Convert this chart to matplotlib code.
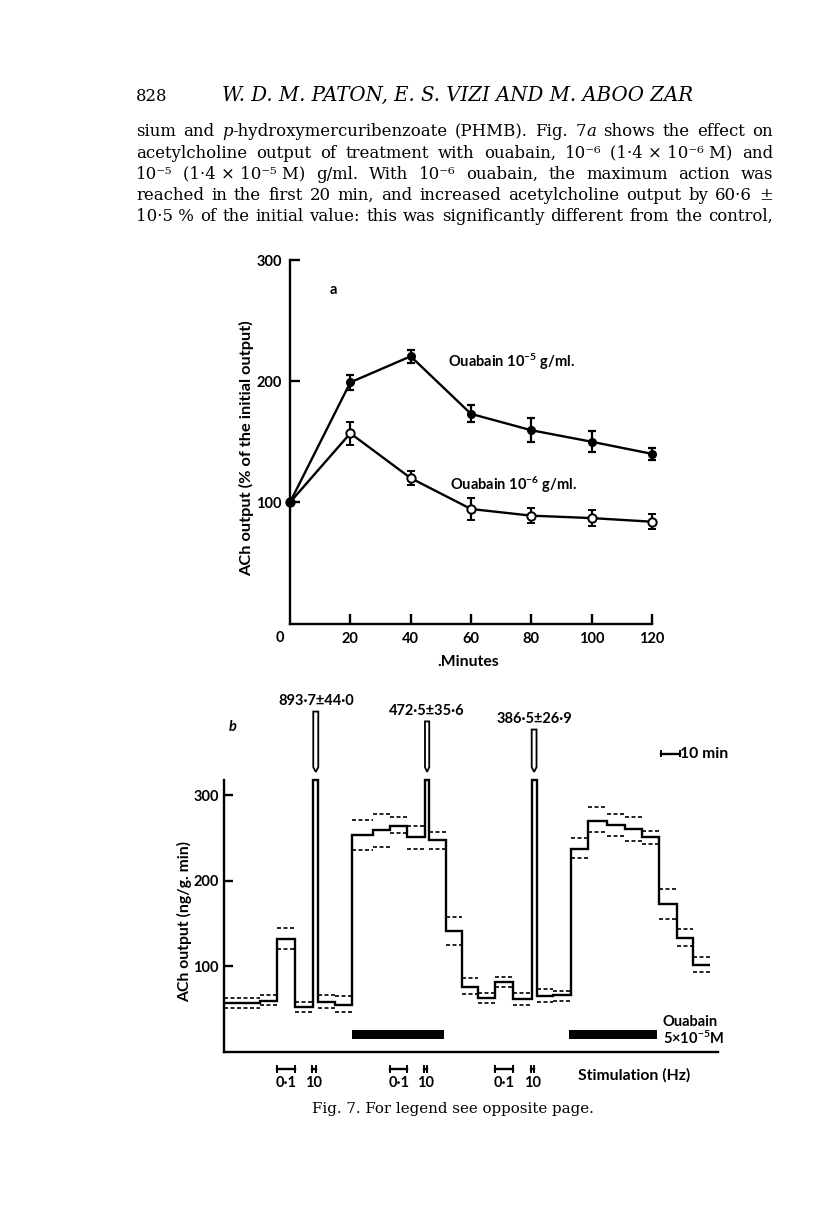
import numpy as np
import matplotlib
matplotlib.use("Agg")
import matplotlib.pyplot as plt
from matplotlib.patches import Polygon

# ---------------- panel a data ----------------
minutes = [0, 20, 40, 60, 80, 100, 120]
ouabain_1e5 = [100, 199, 220.5, 173, 159.5, 150, 140]
ouabain_1e5_err = [0, 6.5, 5.5, 7, 10, 8.5, 5]
ouabain_1e6 = [100, 157, 120, 94.5, 89, 87, 84]
ouabain_1e6_err = [0, 9.7, 6, 9.4, 6, 6.7, 6]
a_xticks = [20, 40, 60, 80, 100, 120]
a_yticks = [100, 200, 300]

# ---------------- panel b data (time in min, output ng/g.min) ----------------
b_edges = [0, 18.5, 27.2, 36.8, 46.1, 48.7, 57.4, 66.0, 76.9, 85.9, 94.8, 104.0,
           106.2, 114.7, 123.0, 131.6, 140.3, 149.7, 159.3, 161.8, 170.2, 179.5,
           188.6, 198.1, 207.6, 216.6, 225.4, 234.4, 243.0, 251.7]
b_mean = [57.1, 60.2, 132.4, 52.4, 893.7, 59, 55.2, 253.2, 259.8, 264.5, 251.3,
          472.5, 247.4, 141, 75.8, 63, 81.7, 61.8, 386.5, 65.7, 66.9, 237.2,
          269.6, 265.7, 260.6, 251.3, 172.9, 133.1, 102]
b_upper = [63, 66.5, 144.8, 58.7, np.nan, 66.5, 65, 270.8, 278.6, 274.7, 264.5,
           np.nan, 256.7, 157.3, 86.4, 68.8, 87.5, 68.8, np.nan, 73.9, 71.9, 250,
           286.4, 278.6, 274.3, 258.7, 190.4, 143.7, 110.9]
b_lower = [52, 54.4, 120.3, 46.2, np.nan, 51.3, 46.6, 235.7, 239.6, 256, 237.6,
           np.nan, 237.6, 124.6, 68, 57.1, 75.8, 54.4, np.nan, 57.9, 60.2, 226.7,
           257.1, 252.6, 247, 243, 155.4, 123.4, 93]
spike_sem = [44.0, 35.6, 26.9]
stim_01hz = [(27.2, 36.8), (85.9, 94.8), (140.3, 149.7)]
stim_10hz = [(46.1, 48.7), (104.0, 106.2), (159.3, 161.8)]
ouabain_periods = [(66.0, 114.0), (178.8, 224.3)]
b_yticks = [100, 200, 300]

# ---------------- body text ----------------
header_num = "828"
header_authors = "W. D. M. PATON, E. S. VIZI AND M. ABOO ZAR"
body_lines = [
    ["sium", "and", [("p", "italic"), ("-hydroxymercuribenzoate", "normal")], "(PHMB).",
     "Fig.", [("7", "normal"), ("a", "italic")], "shows", "the", "effect", "on"],
    ["acetylcholine", "output", "of", "treatment", "with", "ouabain,", "10\u207b\u2076",
     "(1\u00b74 \u00d7 10\u207b\u2076 M)", "and"],
    ["10\u207b\u2075", "(1\u00b74 \u00d7 10\u207b\u2075 M)", "g/ml.", "With", "10\u207b\u2076",
     "ouabain,", "the", "maximum", "action", "was"],
    ["reached", "in", "the", "first", "20", "min,", "and", "increased", "acetylcholine",
     "output", "by", "60\u00b76", "\u00b1"],
    ["10\u00b75 %", "of", "the", "initial", "value:", "this", "was", "significantly",
     "different", "from", "the", "control,"],
]
caption = "Fig. 7. For legend see opposite page."

# ---------------- figure ----------------
W, H = 816, 1229
plt.rcParams['font.family'] = ['Lato', 'DejaVu Sans']
plt.rcParams['font.weight'] = 'bold'
plt.rcParams['mathtext.fontset'] = 'custom'
plt.rcParams['mathtext.rm'] = 'Lato:bold'
plt.rcParams['mathtext.it'] = 'Lato:italic:bold'
plt.rcParams['mathtext.bf'] = 'Lato:bold'

fig = plt.figure(figsize=(W / 100, H / 100), dpi=100)
fig.patch.set_facecolor('white')
renderer = fig.canvas.get_renderer()
SERIF = 'DejaVu Serif'


def fx(x):
    return x / W


def fy(y):
    return 1 - y / H


def ptext(x, y, s, **kw):
    return fig.text(fx(x), fy(y), s, **kw)


def width_of(s, size, style='normal', family=SERIF, weight='normal'):
    t = fig.text(0, 0, s, fontsize=size, family=family, style=style, weight=weight)
    w = t.get_window_extent(renderer).width
    t.remove()
    return w


def norm_word(w):
    return [(w, 'normal')] if isinstance(w, str) else w


def word_width(w, size):
    return sum(width_of(t, size, st) for t, st in norm_word(w))


# body text justified between x=136 and 773
LEFT, RIGHT = 136, 773
base = 10
nat = []
for line in body_lines:
    ws = sum(word_width(w, base) for w in line)
    nat.append(ws + (len(line) - 1) * 0.32 * base * 100 / 72)
size = base * (RIGHT - LEFT) * 0.985 / max(nat)
baselines = [136.5, 157.5, 178.8, 199.8, 220.8]
for line, yb in zip(body_lines, baselines):
    widths = [word_width(w, size) for w in line]
    gap = (RIGHT - LEFT - sum(widths)) / (len(line) - 1)
    x = LEFT
    for w, ww in zip(line, widths):
        xx = x
        for t, st in norm_word(w):
            ptext(xx, yb, t, fontsize=size, family=SERIF, style=st, weight='normal',
                  ha='left', va='baseline')
            xx += width_of(t, size, st)
        x += ww + gap

ptext(LEFT, 100.7, header_num, fontsize=size, family=SERIF, weight='normal',
      ha='left', va='baseline')
hs = 10 * 471 / width_of(header_authors, 10, 'italic')
ptext(221.7, 100.7, header_authors, fontsize=hs, family=SERIF, style='italic',
      weight='normal', ha='left', va='baseline')
cs = 10 * 282 / width_of(caption, 10)
ptext(452.5, 1113, caption, fontsize=cs, family=SERIF, weight='normal',
      ha='center', va='baseline')

LW = 1.7
TICKFS = 10.5
LABFS = 11.3

# ---------------- panel a ----------------
axa = fig.add_axes([fx(290), fy(623.5), 362 / W, 363.5 / H])
axa.set_xlim(0, 120)
axa.set_ylim(0, 300)
for s in ['top', 'right']:
    axa.spines[s].set_visible(False)
for s in ['left', 'bottom']:
    axa.spines[s].set_linewidth(LW)
axa.set_xticks(a_xticks)
axa.set_yticks(a_yticks)
axa.tick_params(direction='in', length=7, width=LW, labelsize=TICKFS)
axa.tick_params(axis='x', pad=6)
axa.tick_params(axis='y', pad=6)
axa.set_facecolor('none')

c1 = axa.errorbar(minutes, ouabain_1e6, yerr=ouabain_1e6_err, color='k', lw=LW,
                  marker='o', ms=6, mfc='white', mec='k', mew=1.4, capsize=3.2,
                  capthick=1.6, elinewidth=1.6, zorder=3)
c2 = axa.errorbar(minutes, ouabain_1e5, yerr=ouabain_1e5_err, color='k', lw=LW,
                  marker='o', ms=5.5, mfc='k', mec='k', capsize=3.2,
                  capthick=1.6, elinewidth=1.6, zorder=4)
for c in (c1, c2):
    for art in c.get_children():
        art.set_clip_on(False)

ptext(280, 638.5, "0", fontsize=TICKFS, ha='center', va='center')
ptext(468, 661.7, ".Minutes", fontsize=LABFS, ha='center', va='center')
ptext(333, 289.5, "a", fontsize=TICKFS, ha='center', va='center')
ptext(246.7, 448, "ACh output (% of the initial output)", fontsize=11.8,
      rotation=90, ha='center', va='center')
ptext(448.3, 362, r"Ouabain 10$^{-5}$ g/ml.", fontsize=TICKFS, ha='left', va='center')
ptext(450, 485, r"Ouabain 10$^{-6}$ g/ml.", fontsize=TICKFS, ha='left', va='center')

# ---------------- panel b ----------------
axb = fig.add_axes([fx(224.3), fy(1052), 494 / W, 272 / H])
axb.set_xlim(0, 256)
axb.set_ylim(0, 318)
axb.set_facecolor('none')
for s in ['top', 'right']:
    axb.spines[s].set_visible(False)
for s in ['left', 'bottom']:
    axb.spines[s].set_linewidth(LW)
axb.set_xticks([])
axb.set_yticks(b_yticks)
axb.tick_params(axis='y', direction='in', length=6.5, width=LW, labelsize=TICKFS, pad=4)

break_level = 318
edges = np.array(b_edges)
mean = np.array(b_mean)
axb.stairs(np.minimum(mean, break_level), edges, baseline=None, color='k', lw=LW,
           clip_on=False, zorder=3)
for i in range(len(mean)):
    for arr in (b_upper, b_lower):
        if not np.isnan(arr[i]):
            axb.hlines(arr[i], edges[i], edges[i + 1], colors='k', lw=1.2,
                       linestyles=(0, (2.4, 1.5)))

# broken spikes: upper stubs + value labels
stub_tops = [398, 386.5, 377]
spike_idx = [i for i, v in enumerate(b_mean) if v > break_level]
for k, i in enumerate(spike_idx):
    x0, x1 = edges[i], edges[i + 1]
    xc = (x0 + x1) / 2
    poly = Polygon([(x0, stub_tops[k]), (x1, stub_tops[k]), (x1, 333), (xc, 327.5),
                    (x0, 333)], closed=True, facecolor='white', edgecolor='k',
                   lw=1.3, clip_on=False)
    axb.add_patch(poly)
    lab = f"{b_mean[i]:.1f}\u00b1{spike_sem[k]:.1f}".replace('.', '\u00b7')
    axb.text(xc, stub_tops[k] + 12.5, lab, fontsize=TICKFS, ha='center', va='center',
             clip_on=False)

# ouabain bars
for s, e in ouabain_periods:
    axb.broken_barh([(s, e - s)], (15, 10.2), facecolors='k')
axb.text(227.3, 35.4, "Ouabain", fontsize=TICKFS, ha='left', va='center')
axb.text(227.3, 16, r"5$\times$10$^{-5}$M", fontsize=TICKFS, ha='left', va='center')


def bracket(x0, x1, y, h=3.5):
    axb.plot([x0, x1], [y, y], color='k', lw=1.7, clip_on=False)
    axb.plot([x0, x0], [y - h, y + h], color='k', lw=1.4, clip_on=False)
    axb.plot([x1, x1], [y - h, y + h], color='k', lw=1.4, clip_on=False)


for s, e in stim_01hz:
    bracket(s, e, -19.9)
    axb.text((s + e) / 2, -36.3, "0\u00b71", fontsize=TICKFS, ha='center', va='center')
for s, e in stim_10hz:
    bracket(s - 0.6, e - 1.4, -19.9)
    axb.text((s + e) / 2 - 1, -36.3, "10", fontsize=TICKFS, ha='center', va='center')
axb.text(183.4, -26.9, "Stimulation (Hz)", fontsize=LABFS, ha='left', va='center')

# 10 min scale bar
sb0 = 226.1
bracket(sb0, sb0 + 10, 348.5, h=3)
axb.text(sb0 + 10.3, 348.5, "10 min", fontsize=LABFS, ha='left', va='center')

axb.text(4.5, 380, "b", fontsize=TICKFS, style='italic', ha='center', va='center')
ptext(185, 921.5, "ACh output (ng/g. min)", fontsize=LABFS, rotation=90,
      ha='center', va='center')

fig.savefig("out.png", dpi=100, facecolor='white')
